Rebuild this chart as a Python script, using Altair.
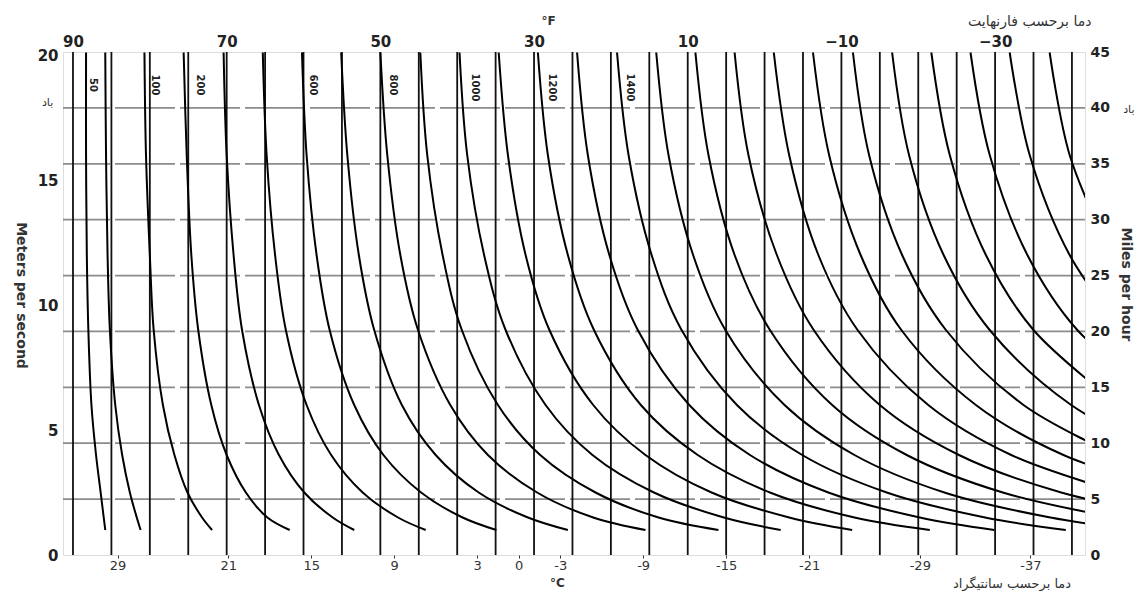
import altair as alt
import pandas as pd

# wind speed (m/s) at which each curve value was read, top of chart downwards
WIND_MS = [20.1, 16, 12, 9, 6, 4, 2.5, 1.5, 1.0]

# cooling-power curves (kcal/m2/h) and their temperatures (deg F)
CHILL = [50, 100, 200, 300, 400, 500, 600, 700, 800, 900, 1000, 1100, 1200,
         1300, 1400, 1500, 1600, 1700, 1800, 1900, 2000, 2100, 2200, 2300, 2400, 2500]
CURVE_TEMPS_F = [
    [88.3, 88.3, 88.2, 88.0, 87.6, 87.0, 86.4, 86.0, 85.8],
    [85.8, 85.7, 85.5, 85.2, 84.5, 83.6, 82.6, 81.7, 81.2],
    [80.7, 80.5, 80.0, 79.5, 78.3, 76.8, 75.1, 73.2, 71.9],
    [75.6, 75.2, 74.6, 73.7, 72.0, 70.0, 67.5, 64.7, 61.8],
    [70.4, 70.0, 69.1, 68.0, 65.8, 63.2, 59.9, 56.2, 53.4],
    [65.3, 64.8, 63.7, 62.3, 59.6, 56.4, 52.3, 47.7, 44.1],
    [60.2, 59.6, 58.3, 56.6, 53.4, 49.6, 44.7, 39.3, 34.9],
    [55.1, 54.3, 52.8, 50.8, 47.2, 42.8, 37.2, 30.8, 25.6],
    [50.0, 49.1, 47.4, 45.1, 40.9, 36.0, 29.6, 22.3, 15.5],
    [44.8, 43.9, 41.9, 39.4, 34.7, 29.2, 22.0, 13.8, 6.0],
    [39.7, 38.7, 36.5, 33.7, 28.5, 22.4, 14.4, 5.3, -2.1],
    [34.6, 33.4, 31.1, 28.0, 22.3, 15.5, 6.9, -3.2, -11.4],
    [29.5, 28.2, 25.6, 22.2, 16.1, 8.7, -0.7, -11.7, -21.5],
    [24.4, 23.0, 20.2, 16.5, 9.8, 1.9, -8.3, -20.2, -29.9],
    [19.2, 17.7, 14.7, 10.8, 3.6, -4.9, -15.9, -28.7, -39.2],
    [14.1, 12.5, 9.3, 5.1, -2.6, -11.7, -23.4, -37.2, -48.4],
    [9.0, 7.3, 3.9, -0.7, -8.8, -18.5, -31.0, -45.7],
    [3.9, 2.1, -1.6, -6.4, -15.0, -25.3, -38.6, -54.2],
    [-1.2, -3.2, -7.0, -12.1, -21.3, -32.1, -46.2],
    [-6.3, -8.4, -12.5, -17.8, -27.5, -38.9, -53.7],
    [-11.5, -13.6, -17.9, -23.6, -33.7, -45.7],
    [-16.6, -18.8, -23.3, -29.3, -39.9, -52.5],
    [-21.7, -24.1, -28.8, -35.0, -46.1],
    [-26.8, -29.3, -34.2, -40.7, -52.4],
    [-31.9, -34.5, -39.7, -46.5],
    [-37.1, -39.7, -45.1],
]

# curve labels near the top
LABEL_TEXT = ["50", "100", "200", "600", "800", "1000", "1200", "1400"]
LABEL_F = [87.4, 79.3, 73.5, 58.8, 48.4, 37.7, 27.7, 17.5]
LABEL_WIND = [18.8, 18.8, 18.8, 18.8, 18.8, 18.7, 18.7, 18.7]

# axes
GRID_F = [90, 85, 80, 75, 70, 65, 60, 55, 50, 45, 40, 35, 30, 25, 20, 15, 10, 5,
          0, -5, -10, -15, -20, -25, -30, -35, -40]
TOP_F_LABELS = [90, 70, 50, 30, 10, -10, -30]
BOTTOM_C_LABELS = [29, 21, 15, 9, 3, 0, -3, -9, -15, -21, -29, -37]
MS_TICKS = [0, 5, 10, 15, 20]
MPH_TICKS = [0, 5, 10, 15, 20, 25, 30, 35, 40, 45]
HGRID_MPH = [5, 10, 15, 20, 25, 30, 35, 40]

# Persian annotations
NOTE_TEXT = ["دما برحسب فارنهایت", "دما برحسب سانتیگراد", "باد", "باد"]
NOTE_F = [-34.5, -32.2, 93.3, -47.4]
NOTE_WIND = [21.32, -1.16, 18.08, 17.8]
NOTE_SIZE = [14, 13, 11, 11]

rows = []
for k, temps in zip(CHILL, CURVE_TEMPS_F):
    for i, t in enumerate(temps):
        rows.append({"chill": k, "wind": WIND_MS[i], "tempF": t, "idx": i})
curves = pd.DataFrame(rows)
labels = pd.DataFrame({"text": LABEL_TEXT, "tempF": LABEL_F, "wind": LABEL_WIND})
notes = pd.DataFrame({"text": NOTE_TEXT, "tempF": NOTE_F, "wind": NOTE_WIND,
                      "size": NOTE_SIZE})
c_pos_f = [c * 9 / 5 + 32 for c in BOTTOM_C_LABELS]

FONT = "DejaVu Sans"
x_scale = alt.Scale(domain=[-41.7, 91.3], reverse=True, nice=False, zero=False)
y_ms = alt.Scale(domain=[0, 20.12], nice=False, zero=True)
y_mph = alt.Scale(domain=[0, 45], nice=False, zero=True)

hgrid = alt.Chart(pd.DataFrame({"mph": HGRID_MPH})).mark_rule(
    color="#8c8c8c", strokeWidth=1.8, strokeDash=[60, 5]
).encode(
    y=alt.Y("mph:Q", scale=y_mph, axis=alt.Axis(
        orient="right", values=MPH_TICKS, grid=False, domain=False, ticks=False,
        labelPadding=5, labelFont=FONT, labelFontSize=14, labelFontWeight="bold",
        labelColor="#222", title="Miles per hour", titleAngle=90, titleX=40,
        titleY=232, titleAlign="center", titleBaseline="middle", titleFont=FONT,
        titleFontSize=14, titleFontWeight="bold", titleColor="#333"))
)

vgrid = alt.Chart(pd.DataFrame({"tempF": GRID_F})).mark_rule(
    color="#111", strokeWidth=1.8
).encode(
    x=alt.X("tempF:Q", scale=x_scale, axis=alt.Axis(
        orient="bottom", values=c_pos_f,
        labelExpr="'' + round((datum.value - 32) * 5 / 9)",
        grid=False, domain=False, ticks=True, tickSize=3, tickColor="#333",
        labelPadding=1, labelFont=FONT, labelFontSize=13, labelColor="#333",
        title="°C", titleX=494, titleY=27, titleBaseline="middle", titleFont=FONT,
        titleFontSize=12, titleFontWeight="bold", titleColor="#333"))
)

curve_layer = alt.Chart(curves).mark_line(
    color="black", strokeWidth=2, interpolate="catmull-rom", clip=True
).encode(
    x=alt.X("tempF:Q", scale=x_scale, axis=alt.Axis(
        orient="top", values=TOP_F_LABELS, grid=False, domain=False, ticks=False,
        labelPadding=3, labelFont=FONT, labelFontSize=15, labelFontWeight="bold",
        labelColor="#222", title="°F", titleX=485, titleY=-32,
        titleBaseline="middle", titleFont=FONT, titleFontSize=12,
        titleFontWeight="bold", titleColor="#333")),
    y=alt.Y("wind:Q", scale=y_ms, axis=alt.Axis(
        orient="left", values=MS_TICKS, grid=False, domain=False, ticks=False,
        labelPadding=5, labelFont=FONT, labelFontSize=15, labelFontWeight="bold",
        labelColor="#222", title="Meters per second", titleAngle=90, titleX=-43,
        titleY=243, titleAlign="center", titleBaseline="middle", titleFont=FONT,
        titleFontSize=14, titleFontWeight="bold", titleColor="#333")),
    detail="chill:N",
    order="idx:Q",
)

label_layer = alt.Chart(labels).mark_text(
    angle=90, font=FONT, fontSize=10, fontWeight="bold", color="#222",
    align="center", baseline="middle"
).encode(
    x=alt.X("tempF:Q", scale=x_scale, axis=None),
    y=alt.Y("wind:Q", scale=y_ms, axis=None),
    text="text:N",
)

note_layer = alt.Chart(notes).mark_text(
    font=FONT, color="#333", align="center", baseline="middle"
).encode(
    x=alt.X("tempF:Q", scale=x_scale, axis=None),
    y=alt.Y("wind:Q", scale=y_ms, axis=None),
    size=alt.Size("size:Q", scale=None, legend=None),
    text="text:N",
)

chart = alt.layer(hgrid, vgrid, curve_layer, label_layer, note_layer).resolve_scale(
    y="independent"
).resolve_axis(
    x="independent", y="independent"
).properties(
    width=1022, height=503,
    padding={"left": 55, "top": 44, "right": 54, "bottom": 36},
    autosize=alt.AutoSizeParams(type="none"),
).configure_view(
    stroke="black", strokeWidth=2
).configure(background="white")

chart.save("out.html", embed_options={"renderer": "svg", "actions": False})
